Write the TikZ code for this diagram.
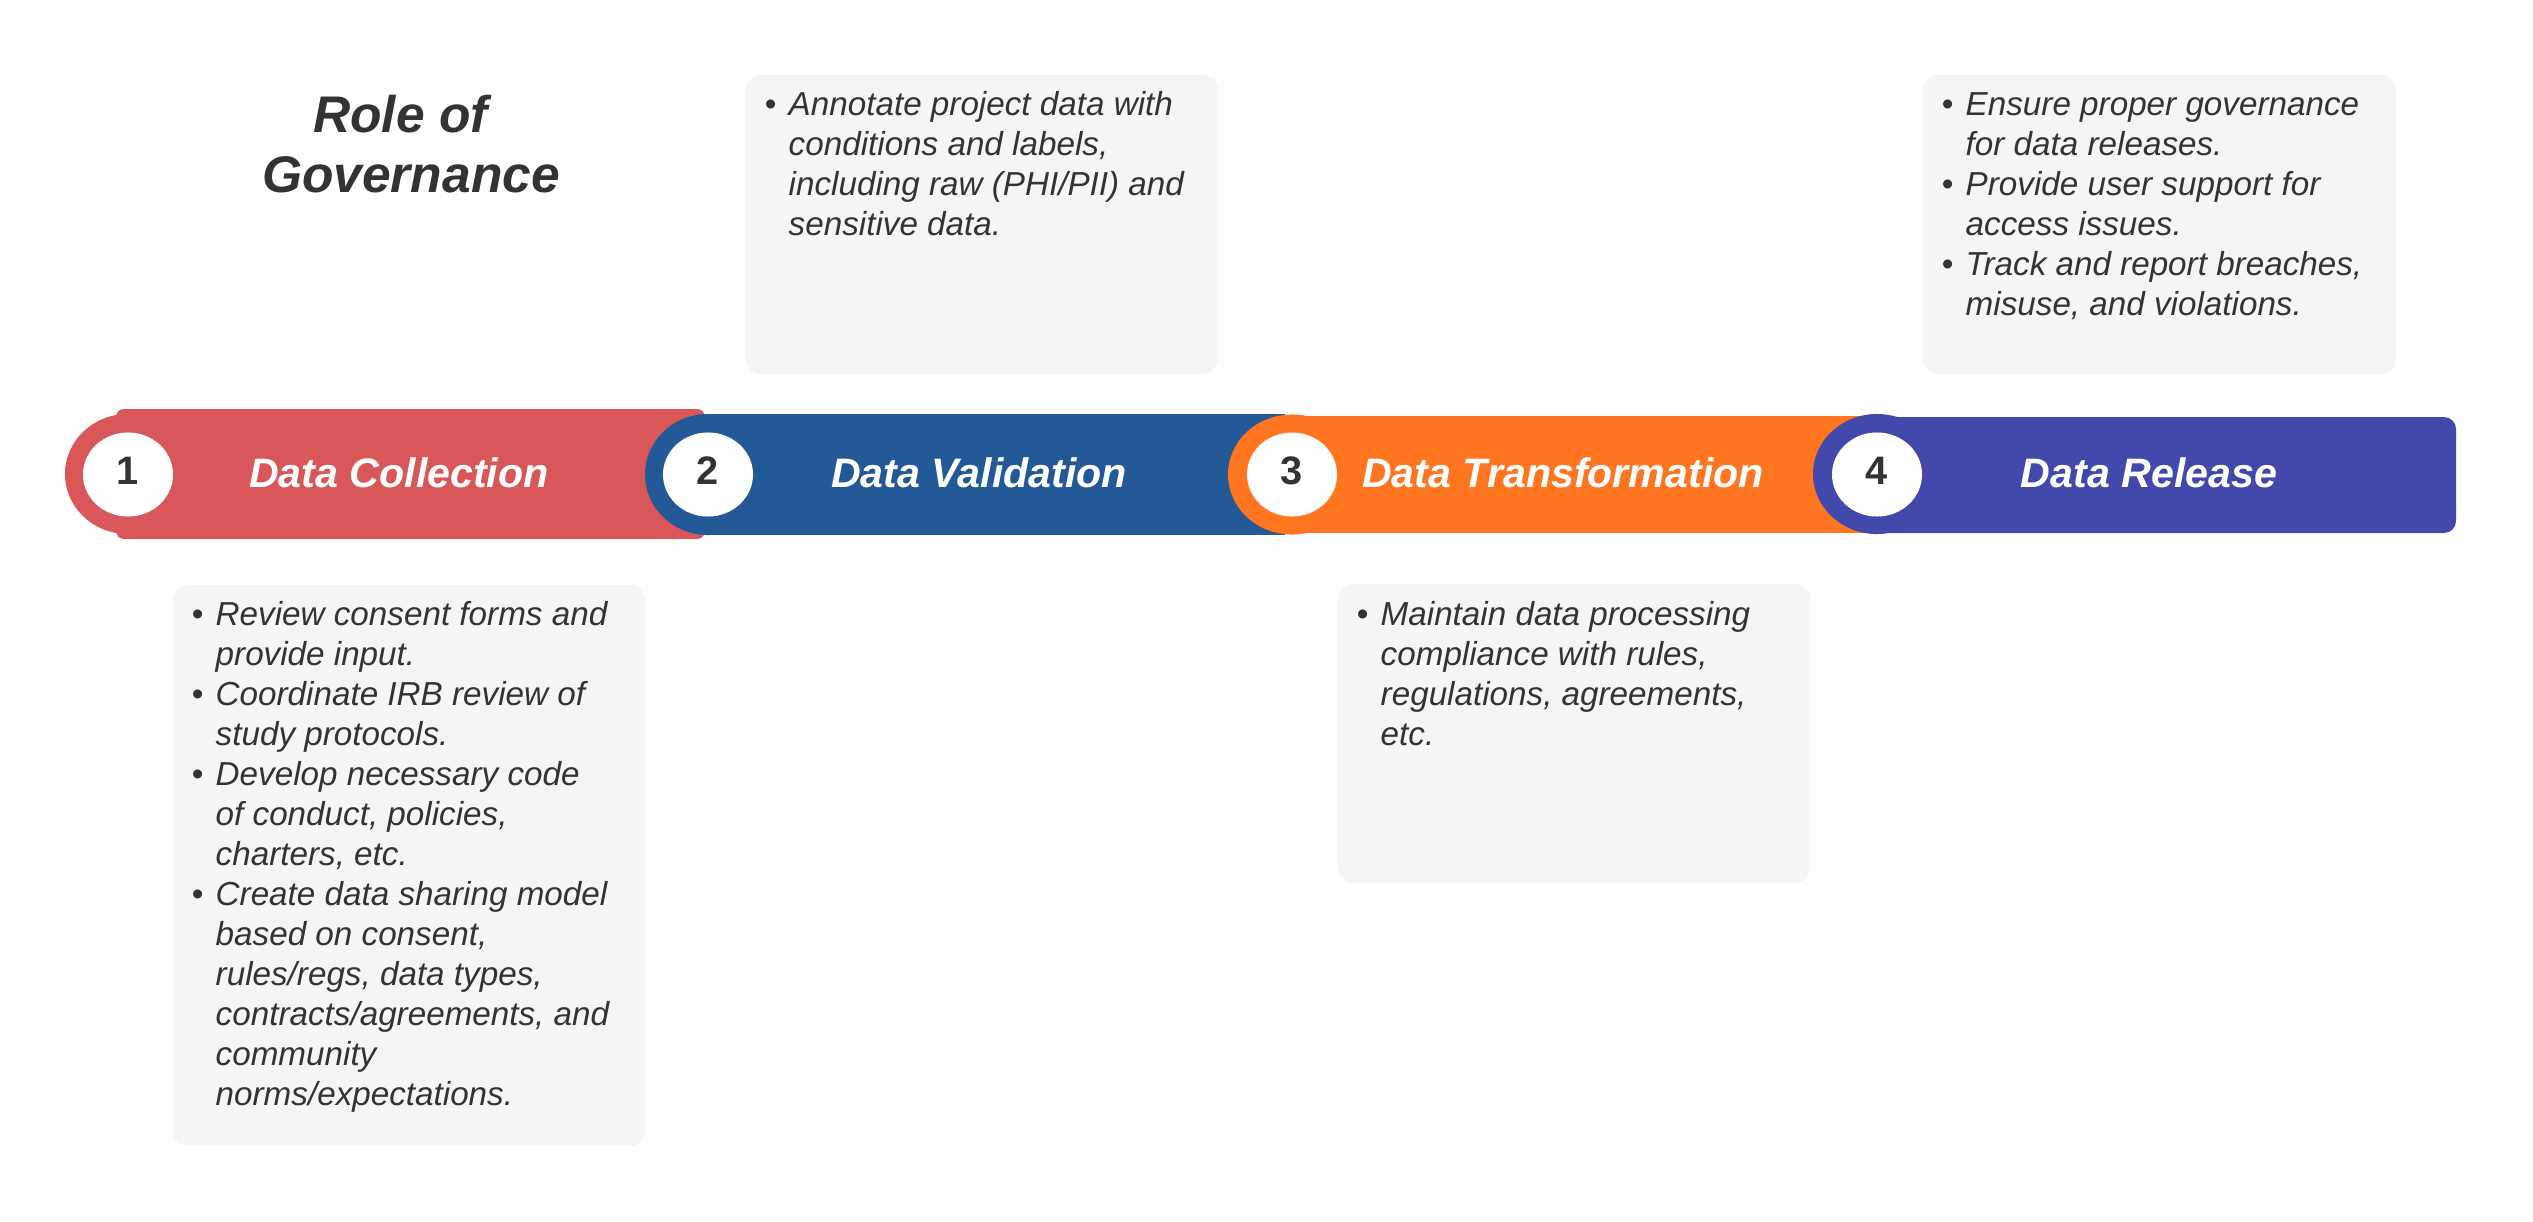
\documentclass[tikz,border=0pt]{standalone}
\usepackage{fontspec}
\setmainfont{Liberation Sans}
\definecolor{ink}{HTML}{333333}
\definecolor{note}{HTML}{F5F5F5}
\definecolor{collect}{HTML}{D95758}
\definecolor{valid}{HTML}{245998}
\definecolor{transf}{HTML}{FF7520}
\definecolor{release}{HTML}{4349AA}
\newcommand{\bul}{\makebox[0.24cm][l]{\textbullet}}
\newcommand{\cont}{\hspace*{0.24cm}}

\begin{document}
\begin{tikzpicture}[x=0.01cm,y=-0.01cm,
  numtext/.style={anchor=base,inner sep=0pt,text=ink,font=\fontsize{11.3}{13}\selectfont\bfseries},
  bandtext/.style={anchor=base,inner sep=0pt,text=white,font=\fontsize{11.7}{14}\selectfont\bfseries\itshape},
  notebox/.style={fill=note,rounded corners=0.15cm},
  notetext/.style={anchor=base west,inner sep=0pt,text=ink,font=\fontsize{9.45}{11.38}\selectfont\itshape}]
  \useasboundingbox (0,0) rectangle (2533,1221);

  \node[inner sep=0pt,align=center,text=ink,font=\fontsize{14.65}{17.07}\selectfont\bfseries\itshape]
    (title) at (406,144) {Role of\hspace*{0.11cm}\\\hspace*{0.1cm}Governance};

  % band 1
  \fill[collect,rounded corners=0.08cm] (116,409) rectangle (705,539);
  \fill[collect] (128,474) ellipse [x radius=0.63cm,y radius=0.6cm];
  \fill[white] (128,474.5) ellipse [x radius=0.45cm,y radius=0.42cm];
  \node[numtext] (n1) at (128,484) {1};
  \node[bandtext] (l1) at (399,487) {Data Collection};

  % band 2
  \fill[valid] (708,414) rectangle (1285,535);
  \fill[valid] (708,474.5) ellipse [x radius=0.63cm,y radius=0.605cm];
  \fill[white] (708,474.5) ellipse [x radius=0.45cm,y radius=0.42cm];
  \node[numtext] (n2) at (708,484) {2};
  \node[bandtext] (l2) at (979,487) {Data Validation};

  % band 3
  \fill[transf] (1292,416) rectangle (1865,533);
  \fill[transf] (1292,474.5) ellipse [x radius=0.64cm,y radius=0.6cm];
  \fill[white] (1292,474.5) ellipse [x radius=0.45cm,y radius=0.42cm];
  \node[numtext] (n3) at (1292,484) {3};
  \node[bandtext] (l3) at (1563,487) {Data Transformation};

  % band 4
  \fill[release,rounded corners=0.12cm] (1877,417) rectangle (2456,533);
  \fill[release] (1877,474) ellipse [x radius=0.64cm,y radius=0.6cm];
  \fill[white] (1877,474.5) ellipse [x radius=0.45cm,y radius=0.42cm];
  \node[numtext] (n4) at (1877,484) {4};
  \node[bandtext] (l4) at (2149,487) {Data Release};

  % notes
  \fill[notebox] (173,585) rectangle (645,1146);
  \node[notetext] (t1) at (191,625) {\begin{tabular}[t]{@{}l@{}}
    \bul Review consent forms and\\ \cont provide input.\\
    \bul Coordinate IRB review of\\ \cont study protocols.\\
    \bul Develop necessary code\\ \cont of conduct, policies,\\ \cont charters, etc.\\
    \bul Create data sharing model\\ \cont based on consent,\\ \cont rules/regs, data types,\\
    \cont contracts/agreements, and\\ \cont community\\ \cont norms/expectations.
  \end{tabular}};

  \fill[notebox] (746,75) rectangle (1218,374);
  \node[notetext] (t2) at (764,115) {\begin{tabular}[t]{@{}l@{}}
    \bul Annotate project data with\\ \cont conditions and labels,\\
    \cont including raw (PHI/PII) and\\ \cont sensitive data.
  \end{tabular}};

  \fill[notebox] (1338,584) rectangle (1810,883);
  \node[notetext] (t3) at (1356,625) {\begin{tabular}[t]{@{}l@{}}
    \bul Maintain data processing\\ \cont compliance with rules,\\
    \cont regulations, agreements,\\ \cont etc.
  \end{tabular}};

  \fill[notebox] (1923,75) rectangle (2396,374);
  \node[notetext] (t4) at (1941,115) {\begin{tabular}[t]{@{}l@{}}
    \bul Ensure proper governance\\ \cont for data releases.\\
    \bul Provide user support for\\ \cont access issues.\\
    \bul Track and report breaches,\\ \cont misuse, and violations.
  \end{tabular}};
\end{tikzpicture}
\end{document}
